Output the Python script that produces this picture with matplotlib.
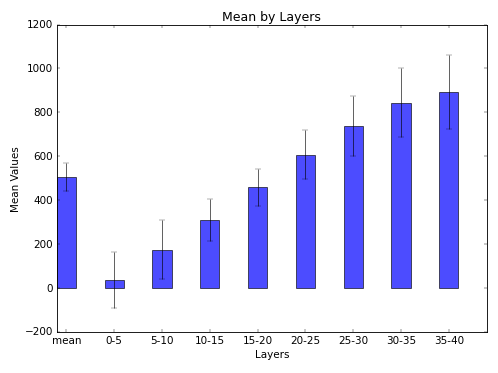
import numpy as np
import matplotlib
matplotlib.use('Agg')
import matplotlib.pyplot as plt

plt.style.use('classic')

# Data
layers = ['mean', '0-5', '5-10', '10-15', '15-20', '20-25', '25-30', '30-35', '35-40']
means = [506, 36, 174, 309, 458, 608, 738, 844, 892]
errors = [63, 129, 135, 97, 86, 110, 135, 156, 167]

ind = np.arange(len(layers))
width = 0.4

fig = plt.figure(figsize=(8, 6), dpi=62.25, facecolor='white')
ax = fig.add_subplot(111)
fig.subplots_adjust(left=0.114, right=0.978, top=0.933, bottom=0.110)

ax.bar(ind, means, width, align='edge', color='blue', alpha=0.7,
       yerr=errors, error_kw=dict(ecolor='black', capsize=3, alpha=0.7))

ax.set_xlim(0, 9)
ax.set_ylim(-200, 1200)
ax.set_xticks(ind + width / 2)
ax.set_xticklabels(layers)
ax.set_xlabel('Layers')
ax.set_ylabel('Mean Values')
ax.set_title('Mean by Layers')

plt.savefig('out.png', dpi=62.25, facecolor='white')
